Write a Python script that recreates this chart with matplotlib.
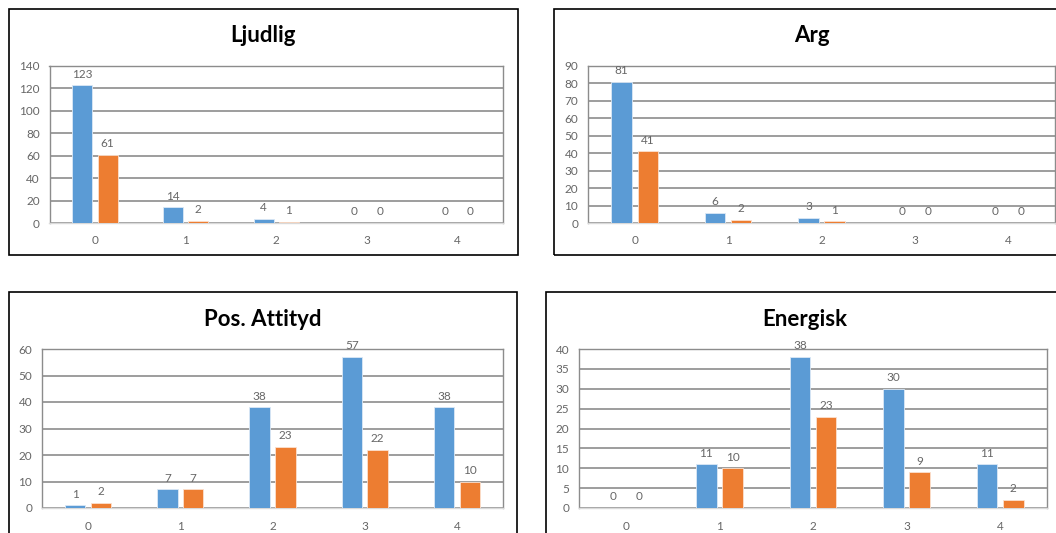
import numpy as np
from matplotlib import pyplot as plt
from matplotlib.patches import Rectangle

plt.rcParams['font.family'] = ['Lato', 'DejaVu Sans']

categories = ['0', '1', '2', '3', '4']

titles = ['Ljudlig', 'Arg', 'Pos. Attityd', 'Energisk']
blue_vals = [
    [123, 14, 4, 0, 0],
    [81, 6, 3, 0, 0],
    [1, 7, 38, 57, 38],
    [0, 11, 38, 30, 11],
]
orange_vals = [
    [61, 2, 1, 0, 0],
    [41, 2, 1, 0, 0],
    [2, 7, 23, 22, 10],
    [0, 10, 23, 9, 2],
]
y_max = [140, 90, 60, 40]
y_step = [20, 10, 10, 5]

W, H = 1056, 533
fig = plt.figure(figsize=(W / 100, H / 100), dpi=100)

# pixel boxes (left, top, right, bottom) for plot areas, frames and titles
plot_px = [(49.5, 66, 503, 223), (588, 66, 1055, 223),
           (42, 349, 503, 508), (579, 349, 1047, 508)]
frame_px = [(9, 9, 518, 255), (554, 9, 1075, 255),
            (9, 292, 517, 560), (546, 292, 1075, 560)]
title_px = [(263, 35), (812, 35), (263, 319), (805, 319)]

BLUE = '#5B9BD5'
ORANGE = '#ED7D31'
GRID = '#8c8c8c'
TXT = '#666666'

for k in range(4):
    fl, ft, fr, fb = frame_px[k]
    fig.patches.append(Rectangle((fl / W, 1 - fb / H), (fr - fl) / W, (fb - ft) / H,
                                 transform=fig.transFigure, fill=False,
                                 edgecolor='black', linewidth=1.2))

    l, t, r, b = plot_px[k]
    ax = fig.add_axes([l / W, 1 - b / H, (r - l) / W, (b - t) / H])
    x = np.arange(len(categories))
    w = 0.22
    b1 = ax.bar(x - 0.14, blue_vals[k], w, color=BLUE, edgecolor='#dbe8f5', linewidth=0.6, zorder=3)
    b2 = ax.bar(x + 0.14, orange_vals[k], w, color=ORANGE, edgecolor='#fbe0cf', linewidth=0.6, zorder=3)
    for bars in (b1, b2):
        for rect in bars:
            h = rect.get_height()
            ax.annotate(f'{int(h)}', (rect.get_x() + rect.get_width() / 2, h),
                        xytext=(0, 4), textcoords='offset points',
                        ha='center', va='bottom', fontsize=8.5, color=TXT)

    ax.set_xlim(-0.5, len(categories) - 0.5)
    ax.set_ylim(0, y_max[k])
    ax.set_yticks(np.arange(0, y_max[k] + 1, y_step[k]))
    ax.set_xticks(x)
    ax.set_xticklabels(categories)
    ax.yaxis.grid(True, color=GRID, linewidth=1.2, zorder=0)
    ax.set_axisbelow(True)
    ax.tick_params(axis='both', length=0, labelsize=8.5, labelcolor=TXT)
    ax.tick_params(axis='y', pad=7)
    ax.tick_params(axis='x', pad=9)
    for side in ('left', 'right', 'top'):
        ax.spines[side].set_color(GRID)
        ax.spines[side].set_linewidth(1.0)
    ax.spines['bottom'].set_color('#d9d9d9')
    ax.spines['bottom'].set_linewidth(1.0)

    tx, ty = title_px[k]
    fig.text(tx / W, 1 - ty / H, titles[k], ha='center', va='center',
             fontsize=16, fontweight='bold', color='black')

fig.savefig('out.png', dpi=100)
